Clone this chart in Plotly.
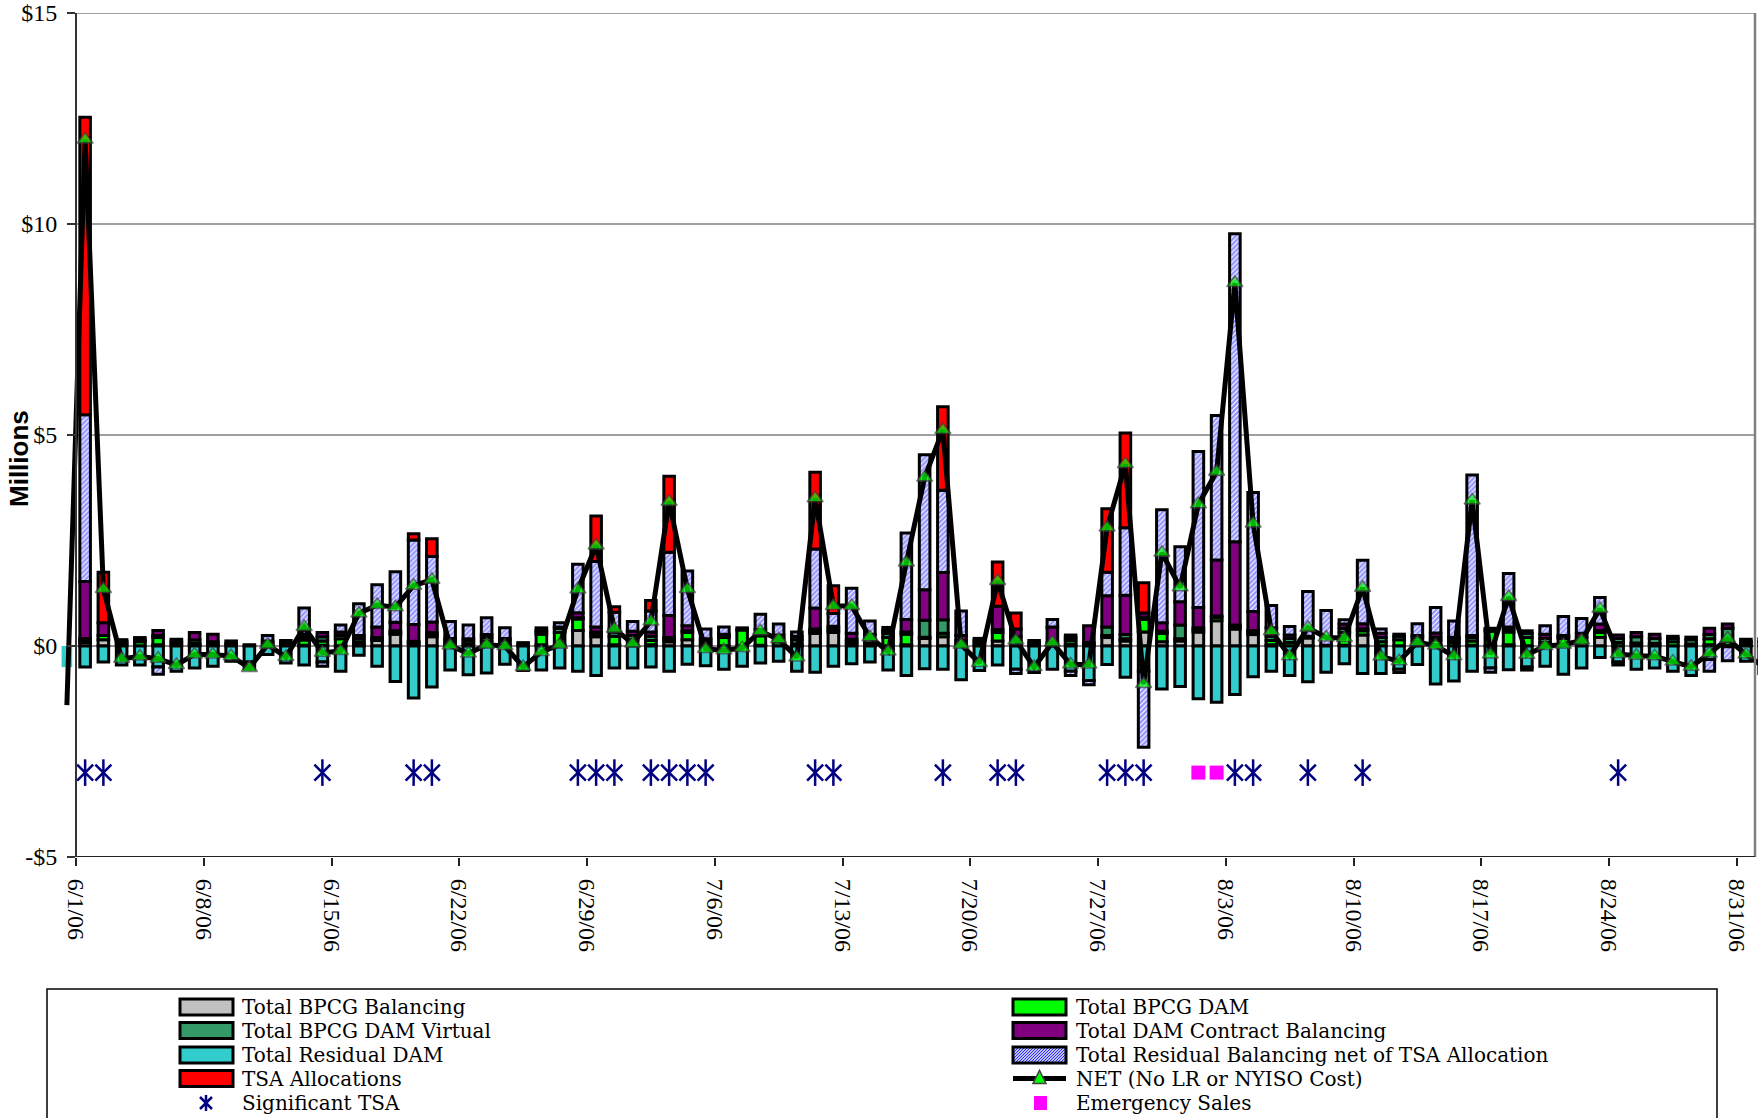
import pandas as pd
import plotly.graph_objects as go

# ---------------- DATA (values in $ millions) ----------------
# one entry per day: 5/31/06, 6/1/06 ... 8/31/06, 9/1/06
dates = pd.date_range("2006-05-31", "2006-09-01", freq="D")

bpcg_balancing = [0,
    0.08, 0.15, 0, 0, 0.03, 0, 0.02, 0, 0, 0,
    0.02, 0, 0.02, 0.02, 0, 0.03, 0.13, 0.28, 0.05, 0.22,
    0, 0, 0, 0, 0, 0.03, 0.02, 0.37, 0.22, 0.03,
    0, 0.03, 0.1, 0.15, 0, 0, 0, 0.02, 0, 0,
    0.3, 0.32, 0.06, 0, 0, 0.03, 0.18, 0.22, 0, 0,
    0.12, 0.02, 0, 0, 0.05, 0, 0.2, 0.12, 0.33, 0.1,
    0.12, 0.33, 0.6, 0.4, 0.27, 0.03, 0, 0.19, 0.02, 0.02,
    0.26, 0, 0, 0, 0.03, 0, 0.02, 0, 0.03, 0,
    0, 0, 0, 0.2, 0, 0, 0, 0, 0, 0.03,
    0.02, 0,
    0]

bpcg_dam = [0,
    0.05, 0.1, 0.05, 0.1, 0.17, 0.06, 0.04, 0.04, 0, 0,
    0.05, 0.03, 0.12, 0.1, 0.17, 0.07, 0.02, 0.03, 0.03, 0.05,
    0.05, 0.04, 0.12, 0.05, 0, 0.25, 0.3, 0.27, 0.06, 0.2,
    0.15, 0.1, 0.05, 0.17, 0.05, 0.2, 0.38, 0.22, 0.1, 0.05,
    0.05, 0.05, 0.05, 0.07, 0.2, 0.25, 0.03, 0.08, 0.05, 0.06,
    0.2, 0.1, 0, 0.03, 0.08, 0.03, 0.05, 0.05, 0.3, 0.2,
    0.05, 0.05, 0.08, 0.05, 0.05, 0.1, 0.08, 0.02, 0, 0.3,
    0.1, 0.1, 0.15, 0.12, 0.1, 0.08, 0.1, 0.35, 0.3, 0.2,
    0.08, 0.18, 0.1, 0.12, 0.08, 0.07, 0.06, 0.1, 0.05, 0.14,
    0.1, 0.06,
    0]

bpcg_dam_virtual = [0,
    0.05, 0, 0.05, 0.05, 0.05, 0.06, 0.08, 0.06, 0.06, 0,
    0, 0.04, 0.06, 0.1, 0.08, 0.08, 0.05, 0.05, 0.03, 0.05,
    0.07, 0.08, 0.08, 0.08, 0.05, 0.05, 0.1, 0.03, 0.05, 0.1,
    0.1, 0.1, 0.05, 0.04, 0.07, 0.05, 0.05, 0.05, 0.08, 0.1,
    0.05, 0.05, 0.05, 0.1, 0.1, 0.05, 0.4, 0.32, 0.08, 0.07,
    0.07, 0.1, 0.07, 0.05, 0.07, 0.05, 0.2, 0.1, 0.05, 0.05,
    0.33, 0.05, 0.03, 0.05, 0.05, 0.1, 0.1, 0.02, 0, 0.1,
    0.05, 0.1, 0.08, 0.08, 0.08, 0.08, 0.08, 0.05, 0.07, 0.1,
    0.1, 0.04, 0.1, 0.05, 0.1, 0.15, 0.12, 0.08, 0.1, 0.1,
    0.3, 0.05,
    0.1]

dam_contract_balancing = [0,
    1.35, 0.3, 0.05, 0.05, 0.12, 0.04, 0.18, 0.18, 0.06, 0.03,
    0.05, 0.06, 0.08, 0.1, 0.08, 0.07, 0.25, 0.2, 0.4, 0.25,
    0.06, 0.05, 0.07, 0.05, 0.03, 0.04, 0.03, 0.12, 0.12, 0.07,
    0.1, 0.1, 0.52, 0.12, 0.05, 0.03, 0, 0.1, 0.08, 0.08,
    0.5, 0.05, 0.14, 0.1, 0.07, 0.3, 0.72, 1.12, 0.12, 0.05,
    0.55, 0.18, 0.06, 0.37, 0.06, 0.4, 0.74, 0.93, 0.1, 0.2,
    0.55, 0.48, 1.33, 1.97, 0.45, 0.2, 0.08, 0, 0, 0.1,
    0.12, 0.1, 0.05, 0.05, 0.1, 0.05, 0.05, 0.02, 0.05, 0.06,
    0.1, 0.03, 0.1, 0.15, 0.08, 0.1, 0.1, 0.05, 0.06, 0.15,
    0.1, 0.05,
    0.07]

residual_dam = [-0.5,
    -0.5, -0.38, -0.45, -0.45, -0.5, -0.6, -0.52, -0.48, -0.36, -0.38,
    -0.2, -0.4, -0.45, -0.38, -0.6, -0.22, -0.48, -0.84, -1.23, -0.97,
    -0.57, -0.68, -0.64, -0.43, -0.58, -0.57, -0.52, -0.6, -0.7, -0.52,
    -0.52, -0.5, -0.6, -0.43, -0.47, -0.55, -0.48, -0.4, -0.36, -0.6,
    -0.62, -0.48, -0.42, -0.38, -0.57, -0.7, -0.54, -0.55, -0.8, -0.58,
    -0.45, -0.55, -0.63, -0.55, -0.6, -0.82, -0.44, -0.74, -0.6, -1.02,
    -0.96, -1.25, -1.33, -1.15, -0.73, -0.6, -0.7, -0.85, -0.62, -0.42,
    -0.65, -0.65, -0.55, -0.44, -0.9, -0.83, -0.6, -0.52, -0.56, -0.5,
    -0.48, -0.67, -0.52, -0.27, -0.38, -0.55, -0.52, -0.6, -0.7, -0.32,
    -0.02, -0.36,
    -0.65]

residual_balancing = [0,
    3.95, 0, 0, 0, -0.17, 0, 0, 0, 0, -0.17,
    0.13, 0, 0.62, -0.1, 0.17, 0.75, 1.0, 1.2, 2.0, 1.55,
    0.4, 0.33, 0.4, 0.25, 0, 0.06, 0.1, 1.15, 1.55, 0.4,
    0.23, 0.5, 1.5, 1.3, 0.23, 0.17, 0, 0.36, 0.26, 0.1,
    1.4, 0.3, 1.07, 0.32, 0.07, 2.05, 3.2, 1.95, 0.58, 0,
    0, -0.1, 0, 0.18, -0.1, -0.1, 0.56, 1.6, -1.8, 2.68,
    1.3, 3.7, 3.42, 7.3, 2.82, 0.53, 0.2, 1.06, 0.82, 0.1,
    1.5, 0.1, -0.08, 0.28, 0.6, 0.38, 3.8, -0.1, 1.27, -0.07,
    0.2, 0.45, 0.35, 0.63, -0.07, 0, 0, 0, 0, -0.28,
    -0.33, 0,
    0]

tsa_allocations = [0,
    7.05, 1.2, 0, 0, 0, 0, 0, 0, 0, 0,
    0, 0, 0, 0, 0, 0, 0, 0, 0.15, 0.42,
    0, 0, 0, 0, 0, 0, 0, 0, 1.08, 0.13,
    0, 0.25, 1.8, 0, 0, 0, 0, 0, 0, 0,
    1.82, 0.66, 0, 0, 0, 0, 0, 1.98, 0, 0,
    1.05, 0.38, 0, 0, 0, 0, 1.5, 2.25, 0.72, 0,
    0, 0, 0, 0, 0, 0, 0, 0, 0, 0,
    0, 0, 0, 0, 0, 0, 0, 0, 0, 0,
    0, 0, 0, 0, 0, 0, 0, 0, 0, 0,
    0, 0,
    0]

net_total = [-1.4,
    12.0, 1.35, -0.3, -0.25, -0.3, -0.45, -0.2, -0.2, -0.24, -0.52,
    0.03, -0.26, 0.45, -0.16, -0.12, 0.77, 0.97, 0.92, 1.43, 1.57,
    0.01, -0.18, 0.03, 0.0, -0.5, -0.14, 0.03, 1.34, 2.38, 0.41,
    0.06, 0.58, 3.42, 1.35, -0.07, -0.1, -0.05, 0.35, 0.16, -0.27,
    3.5, 0.95, 0.95, 0.21, -0.13, 1.98, 3.99, 5.12, 0.03, -0.4,
    1.54, 0.13, -0.5, 0.08, -0.44, -0.44, 2.81, 4.31, -0.9, 2.21,
    1.39, 3.36, 4.13, 8.6, 2.9, 0.35, -0.24, 0.43, 0.2, 0.19,
    1.38, -0.25, -0.36, 0.09, 0.01, -0.24, 3.45, -0.2, 1.16, -0.21,
    0.0, 0.03, 0.13, 0.88, -0.19, -0.23, -0.24, -0.37, -0.49, -0.18,
    0.17, -0.2,
    -0.5]

significant_tsa_dates = ["2006-06-01", "2006-06-02", "2006-06-14", "2006-06-19", "2006-06-20",
                         "2006-06-28", "2006-06-29", "2006-06-30", "2006-07-02", "2006-07-03",
                         "2006-07-04", "2006-07-05", "2006-07-11", "2006-07-12", "2006-07-18",
                         "2006-07-21", "2006-07-22", "2006-07-27", "2006-07-28", "2006-07-29",
                         "2006-08-03", "2006-08-04", "2006-08-07", "2006-08-10", "2006-08-24"]
significant_tsa_values = [-3, -3, -3, -3, -3, -3, -3, -3, -3, -3, -3, -3, -3,
                          -3, -3, -3, -3, -3, -3, -3, -3, -3, -3, -3, -3]
emergency_sales_dates = ["2006-08-01", "2006-08-02"]
emergency_sales_values = [-3, -3]

x_tick_dates = ["2006-06-01", "2006-06-08", "2006-06-15", "2006-06-22", "2006-06-29",
                "2006-07-06", "2006-07-13", "2006-07-20", "2006-07-27", "2006-08-03",
                "2006-08-10", "2006-08-17", "2006-08-24", "2006-08-31"]
x_tick_labels = ["6/1/06", "6/8/06", "6/15/06", "6/22/06", "6/29/06", "7/6/06", "7/13/06",
                 "7/20/06", "7/27/06", "8/3/06", "8/10/06", "8/17/06", "8/24/06", "8/31/06"]
y_tick_values = [-5, 0, 5, 10, 15]
y_tick_labels = ["-$5", "$0", "$5", "$10", "$15"]

series_names = ["Total BPCG Balancing", "Total BPCG DAM", "Total BPCG DAM Virtual",
                "Total DAM Contract Balancing", "Total Residual DAM",
                "Total Residual Balancing net of TSA Allocation", "TSA Allocations"]
net_name = "NET (No LR or NYISO Cost)"

# ---------------- STYLE ----------------
W, H = 1760, 1118
ML, MR, MT, MB = 58, 2, 13, 261
PW, PH = W - ML - MR, H - MT - MB
DAY_PX = 18.25
AXIS_PX = 76  # pixel where 6/1/06 00:00 sits

serif = "Liberation Serif, Times New Roman, serif"
legend_font = "DejaVu Serif, Liberation Serif, serif"
colors = ["#C0C0C0", "#00FF00", "#339966", "#800080", "#33CCCC", None, "#FF0000"]
hatch_fg = "#2b2bff"
BORDER = 3

day0 = pd.Timestamp("2006-06-01")
x_start = day0 - pd.Timedelta(days=(AXIS_PX - ML) / DAY_PX)
x_end = x_start + pd.Timedelta(days=PW / DAY_PX)
bar_x = dates + pd.Timedelta(hours=12)
bar_w = 0.58 * 86400000


def px2x(px):
    return (px - ML) / PW


def py2y(py):
    return (MT + PH - py) / PH


fig = go.Figure()

all_series = [bpcg_balancing, bpcg_dam, bpcg_dam_virtual, dam_contract_balancing,
              residual_dam, residual_balancing, tsa_allocations]
for i, (name, vals) in enumerate(zip(series_names, all_series)):
    yv = [v if v != 0 else None for v in vals]
    lw = [0 if j == 0 else BORDER for j in range(len(vals))]
    if colors[i] is None:
        marker = dict(color="white",
                      pattern=dict(shape="/", fgcolor=hatch_fg, bgcolor="white",
                                   size=3.5, solidity=0.7),
                      line=dict(color="black", width=lw))
    else:
        marker = dict(color=colors[i], line=dict(color="black", width=lw))
    fig.add_trace(go.Bar(x=bar_x, y=yv, name=name, width=bar_w, marker=marker))

msize = [0] + [14] * (len(net_total) - 2) + [0]
fig.add_trace(go.Scatter(x=bar_x, y=net_total, name=net_name, mode="lines+markers",
                         line=dict(color="black", width=5),
                         marker=dict(symbol="triangle-up", size=msize, color="#00FF00",
                                     line=dict(color="#404040", width=1.5))))

sig_x = pd.to_datetime(significant_tsa_dates) + pd.Timedelta(hours=12)
fig.add_trace(go.Scatter(x=sig_x, y=significant_tsa_values, name="Significant TSA", mode="markers",
                         marker=dict(symbol="x-thin-open", size=16, color="#000080",
                                     line=dict(color="#000080", width=2.5))))
fig.add_trace(go.Scatter(x=sig_x, y=significant_tsa_values, name="Significant TSA", mode="markers",
                         showlegend=False,
                         marker=dict(symbol="line-ns-open", size=19, color="#000080",
                                     line=dict(color="#000080", width=2.5))))
em_x = pd.to_datetime(emergency_sales_dates) + pd.Timedelta(hours=12)
fig.add_trace(go.Scatter(x=em_x, y=emergency_sales_values, name="Emergency Sales", mode="markers",
                         marker=dict(symbol="square", size=14, color="#FF00FF",
                                     line=dict(width=0))))

# ---------------- frame / gridlines ----------------
shapes = []
for gy, col, wd in [(5, "#808080", 1.3), (10, "#808080", 1.3), (15, "#808080", 1.6),
                    (0, "#222222", 1.0)]:
    shapes.append(dict(type="line", xref="x", yref="y", x0="2006-06-01", x1="2006-09-01",
                       y0=gy, y1=gy, line=dict(color=col, width=wd), layer="below"))
shapes.append(dict(type="line", xref="x", yref="y", x0="2006-09-01", x1="2006-09-01",
                   y0=-5, y1=15, line=dict(color="#808080", width=2.5), layer="above"))
shapes.append(dict(type="line", xref="x", yref="y", x0="2006-06-01", x1="2006-09-01",
                   y0=-5, y1=-5, line=dict(color="#222222", width=2), layer="above"))

# ---------------- manual legend ----------------
shapes.append(dict(type="rect", xref="paper", yref="paper",
                   x0=px2x(47), x1=px2x(1717), y0=py2y(1130), y1=py2y(989),
                   line=dict(color="black", width=1.5), fillcolor="white", layer="above"))

row_y = [1007, 1030.5, 1055, 1078.5, 1103]
col_sw = [(180, 233), (1013, 1066)]
col_tx = [240, 1074]
items = [
    (0, 0, "rect", colors[0], series_names[0]),
    (0, 1, "rect", colors[1], series_names[1]),
    (1, 0, "rect", colors[2], series_names[2]),
    (1, 1, "rect", colors[3], series_names[3]),
    (2, 0, "rect", colors[4], series_names[4]),
    (2, 1, "hatch", None, series_names[5]),
    (3, 0, "rect", colors[6], series_names[6]),
    (3, 1, "net", None, net_name),
    (4, 0, "star", None, "Significant TSA"),
    (4, 1, "square", None, "Emergency Sales"),
]
annotations = []
for r, c, kind, col, label in items:
    x0, x1 = col_sw[c]
    yc = row_y[r]
    yt, yb = yc - 8, yc + 8
    if kind == "rect":
        shapes.append(dict(type="rect", xref="paper", yref="paper", x0=px2x(x0), x1=px2x(x1),
                           y0=py2y(yb), y1=py2y(yt), fillcolor=col,
                           line=dict(color="black", width=3), layer="above"))
    elif kind == "hatch":
        shapes.append(dict(type="rect", xref="paper", yref="paper", x0=px2x(x0), x1=px2x(x1),
                           y0=py2y(yb), y1=py2y(yt), fillcolor="#c0c2f6",
                           line=dict(width=0), layer="above"))
        h = yb - yt
        path = ""
        k = -h
        while k < (x1 - x0):
            xs, ys = x0 + k, yb
            xe, ye = x0 + k + h, yt
            if xs < x0:
                ys -= (x0 - xs)
                xs = x0
            if xe > x1:
                ye += (xe - x1)
                xe = x1
            path += "M%.5f,%.5f L%.5f,%.5f " % (px2x(xs), py2y(ys), px2x(xe), py2y(ye))
            k += 3
        shapes.append(dict(type="path", xref="paper", yref="paper", path=path,
                           line=dict(color=hatch_fg, width=1), layer="above"))
        shapes.append(dict(type="rect", xref="paper", yref="paper", x0=px2x(x0), x1=px2x(x1),
                           y0=py2y(yb), y1=py2y(yt), line=dict(color="black", width=3),
                           layer="above"))
    elif kind == "net":
        shapes.append(dict(type="line", xref="paper", yref="paper", x0=px2x(x0), x1=px2x(x1),
                           y0=py2y(yc), y1=py2y(yc), line=dict(color="black", width=5),
                           layer="above"))
        xm = (x0 + x1) / 2
        tri = "M%.5f,%.5f L%.5f,%.5f L%.5f,%.5f Z" % (
            px2x(xm - 6.5), py2y(yc + 5), px2x(xm + 6.5), py2y(yc + 5), px2x(xm), py2y(yc - 8))
        shapes.append(dict(type="path", xref="paper", yref="paper", path=tri,
                           fillcolor="#00FF00", line=dict(color="#404040", width=1.5),
                           layer="above"))
    elif kind == "star":
        xm = 206
        s = 8
        p = "M%.5f,%.5f L%.5f,%.5f M%.5f,%.5f L%.5f,%.5f M%.5f,%.5f L%.5f,%.5f" % (
            px2x(xm - 6), py2y(yc - 6), px2x(xm + 6), py2y(yc + 6),
            px2x(xm - 6), py2y(yc + 6), px2x(xm + 6), py2y(yc - 6),
            px2x(xm), py2y(yc - s), px2x(xm), py2y(yc + s))
        shapes.append(dict(type="path", xref="paper", yref="paper", path=p,
                           line=dict(color="#000080", width=2.5), layer="above"))
    elif kind == "square":
        shapes.append(dict(type="rect", xref="paper", yref="paper", x0=px2x(1034), x1=px2x(1047),
                           y0=py2y(yc + 7), y1=py2y(yc - 7), fillcolor="#FF00FF",
                           line=dict(width=0), layer="above"))
    annotations.append(dict(xref="paper", yref="paper", x=px2x(col_tx[c]), y=py2y(yc),
                            xanchor="left", yanchor="middle", text=label, showarrow=False,
                            font=dict(family=legend_font, size=20, color="black")))

annotations.append(dict(xref="paper", yref="paper", x=px2x(19), y=py2y(459), text="<b>Millions</b>",
                        textangle=-90, showarrow=False, xanchor="center", yanchor="middle",
                        font=dict(family="Liberation Sans, Arial, sans-serif", size=26,
                                  color="black")))

fig.update_layout(
    width=W, height=H,
    margin=dict(l=ML, r=MR, t=MT, b=MB, pad=0),
    paper_bgcolor="white", plot_bgcolor="white",
    barmode="relative",
    showlegend=False,
    shapes=shapes,
    annotations=annotations,
    xaxis=dict(type="date", range=[x_start, x_end], tickvals=pd.to_datetime(x_tick_dates),
               ticktext=x_tick_labels, tickangle=90, ticks="outside", ticklen=8, tickwidth=1.5,
               tickcolor="#222222", showgrid=False, zeroline=False, showline=False,
               automargin=False, ticklabelstandoff=8,
               tickfont=dict(family=serif, size=24, color="black")),
    yaxis=dict(range=[-5, 15], tickvals=y_tick_values, ticktext=y_tick_labels,
               anchor="free", position=(AXIS_PX - ML) / PW,
               ticks="outside", ticklen=8, tickwidth=1.5, tickcolor="#333333",
               showline=True, linecolor="#333333", linewidth=2,
               showgrid=False, zeroline=False, automargin=False, ticklabelstandoff=5,
               tickfont=dict(family=serif, size=24, color="black")),
)

fig.write_html("out.html", config={"displayModeBar": False},
               post_script="document.body.style.margin='0px';document.body.style.overflow='hidden';")
